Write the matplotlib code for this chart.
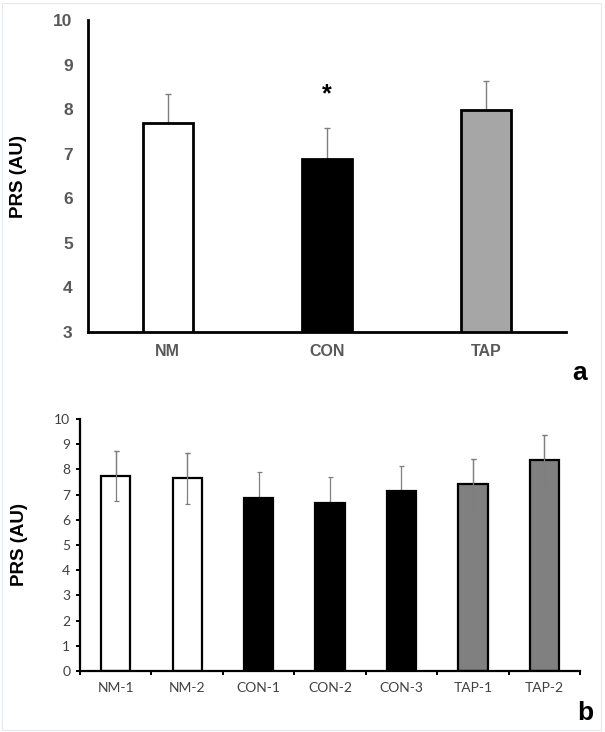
import matplotlib
matplotlib.use("Agg")
import matplotlib.pyplot as plt
from matplotlib.patches import Rectangle
import numpy as np

# Panel a data
groups_a = ["NM", "CON", "TAP"]
means_a = [7.70, 6.89, 7.97]
err_a = [0.64, 0.69, 0.67]
colors_a = ["#ffffff", "#000000", "#a6a6a6"]

# Panel b data
groups_b = ["NM-1", "NM-2", "CON-1", "CON-2", "CON-3", "TAP-1", "TAP-2"]
means_b = [7.73, 7.64, 6.87, 6.66, 7.14, 7.43, 8.36]
err_b = [1.00, 1.00, 1.04, 1.04, 0.98, 0.99, 0.99]
colors_b = ["#ffffff", "#ffffff", "#000000", "#000000", "#000000", "#808080", "#808080"]

fig = plt.figure(figsize=(6.05, 7.32), dpi=100)

# ---------- Panel a ----------
axa = fig.add_axes([88/605, (732-332)/732, (566-88)/605, (332-20)/732])
xa = np.arange(len(groups_a))
axa.errorbar(xa, means_a, yerr=[np.zeros(len(err_a)), err_a], fmt="none",
             ecolor="#7f7f7f", elinewidth=1.0, capsize=2.3, capthick=1.0, zorder=1)
axa.bar(xa, means_a, width=0.315, color=colors_a, edgecolor="black",
        linewidth=2.0, zorder=2)
axa.set_xlim(-0.5, 2.5)
axa.set_ylim(3, 10)
axa.set_yticks(range(3, 11))
axa.set_xticks(xa)
axa.set_xticklabels(groups_a)
for s in ["top", "right"]:
    axa.spines[s].set_visible(False)
for s in ["left", "bottom"]:
    axa.spines[s].set_linewidth(2.0)
axa.tick_params(axis="both", length=0)
axa.tick_params(axis="y", pad=11)
axa.tick_params(axis="x", pad=9)
for lab in axa.get_yticklabels():
    lab.set_fontfamily("Liberation Sans")
    lab.set_fontweight("bold")
    lab.set_fontsize(12.5)
    lab.set_color("#595959")
for lab in axa.get_xticklabels():
    lab.set_fontfamily("Liberation Sans")
    lab.set_fontweight("bold")
    lab.set_fontsize(11.5)
    lab.set_color("#595959")
axa.set_ylabel("PRS (AU)", fontfamily="Liberation Sans", fontweight="bold",
               fontsize=13.5, color="black")
axa.yaxis.set_label_coords(-0.127, 0.5)
axa.text(1, 8.33, "*", ha="center", va="center", fontsize=18,
         fontweight="bold", fontfamily="Liberation Sans", color="black")
fig.text(580/605, 1 - 373/732, "a", ha="center", va="center",
         fontsize=19, fontweight="bold", fontfamily="Liberation Sans")

# ---------- Panel b ----------
axb = fig.add_axes([80/605, (732-671)/732, (580-80)/605, (671-419)/732])
xb = np.arange(len(groups_b))
# error bars behind bars (hidden by black bars) ...
axb.errorbar(xb, means_b, yerr=err_b, fmt="none",
             ecolor="#7f7f7f", elinewidth=0.9, capsize=1.8, capthick=0.9, zorder=1)
axb.bar(xb, means_b, width=0.41, color=colors_b, edgecolor="black",
        linewidth=1.6, zorder=2)
# ... and drawn again on top of the non-black bars
light = [i for i, c in enumerate(colors_b) if c != "#000000"]
axb.errorbar(xb[light], np.array(means_b)[light], yerr=np.array(err_b)[light], fmt="none",
             ecolor="#7f7f7f", elinewidth=0.9, capsize=1.8, capthick=0.9, zorder=3)
axb.set_xlim(-0.5, 6.5)
axb.set_ylim(0, 10)
axb.set_yticks(range(0, 11))
axb.set_xticks(xb)
axb.set_xticklabels(groups_b)
axb.set_xticks(np.arange(-0.5, 7.0, 1.0), minor=True)
for s in ["top", "right"]:
    axb.spines[s].set_visible(False)
for s in ["left", "bottom"]:
    axb.spines[s].set_linewidth(1.6)
axb.tick_params(axis="x", which="major", length=0, pad=8)
axb.tick_params(axis="x", which="minor", length=3, width=1.4, direction="out")
axb.tick_params(axis="y", length=3, width=1.4, direction="out", pad=4)
for lab in axb.get_yticklabels() + axb.get_xticklabels():
    lab.set_fontfamily("Lato")
    lab.set_fontsize(10)
    lab.set_color("#404040")
axb.set_ylabel("PRS (AU)", fontfamily="Liberation Sans", fontweight="bold",
               fontsize=13.5, color="black")
axb.yaxis.set_label_coords(-0.104, 0.5)
fig.text(585/605, 1 - 713/732, "b", ha="center", va="center",
         fontsize=19, fontweight="bold", fontfamily="Liberation Sans")

# faint frame around image
fig.patches.append(Rectangle((2/605, 2/732), 599/605, 727/732, transform=fig.transFigure,
                             fill=False, edgecolor="#e3e8ee", linewidth=0.8))

fig.savefig("out.png", dpi=100)
